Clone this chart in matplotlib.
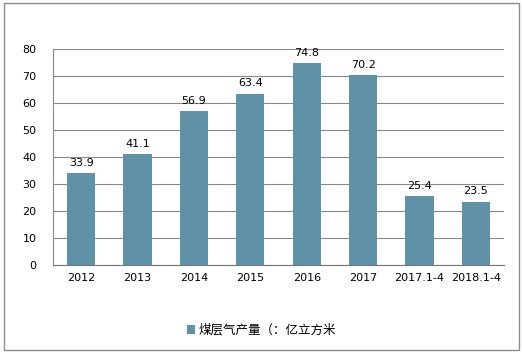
import matplotlib
matplotlib.use("Agg")
import matplotlib.pyplot as plt
from matplotlib.patches import Rectangle

plt.rcParams['font.family'] = ['Noto Sans CJK SC', 'DejaVu Sans']

categories = ["2012", "2013", "2014", "2015", "2016", "2017", "2017.1-4", "2018.1-4"]
values = [33.9, 41.1, 56.9, 63.4, 74.8, 70.2, 25.4, 23.5]
series_name = "煤层气产量（：亿立方米"
yticks = [0, 10, 20, 30, 40, 50, 60, 70, 80]

bar_color = "#5F91A7"

fig = plt.figure(figsize=(5.23, 3.53), dpi=100)
fig.patch.set_facecolor("white")
fig.patches.append(Rectangle((4/523, 3/353), 515/523, 347/353, transform=fig.transFigure,
                             fill=False, edgecolor="#8c8c8c", linewidth=1.0))

ax = fig.add_axes([53/523, 1-265/353, 451/523, 216/353])
x = range(len(categories))
bars = ax.bar(x, values, width=0.5, color=bar_color, zorder=3, label=series_name)
ax.set_xlim(-0.5, len(categories) - 0.5)
ax.set_ylim(0, 80)
ax.set_yticks(yticks)
ax.set_yticklabels([str(t) for t in yticks], fontsize=8, family=['DejaVu Sans'])
ax.set_xticks(list(x))
ax.set_xticklabels(categories, fontsize=8, family=['DejaVu Sans'])
ax.tick_params(axis='y', length=0, pad=12)
ax.tick_params(axis='x', length=0, pad=6)
ax.grid(axis='y', color="#888888", linewidth=0.8, zorder=0)
for s in ["top", "right"]:
    ax.spines[s].set_visible(False)
ax.spines["left"].set_color("#888888")
ax.spines["bottom"].set_color("#777777")

for xi, v in zip(x, values):
    ax.text(xi, v + 2, f"{v}", ha="center", va="bottom", fontsize=8, family=['DejaVu Sans'])

leg = fig.legend(handles=[bars], labels=[series_name], loc="center",
                 bbox_to_anchor=(0.5, 1-330/353), frameon=False, fontsize=9,
                 handlelength=0.7, handleheight=0.7, handletextpad=0.3)

fig.savefig("out.png", dpi=100)
